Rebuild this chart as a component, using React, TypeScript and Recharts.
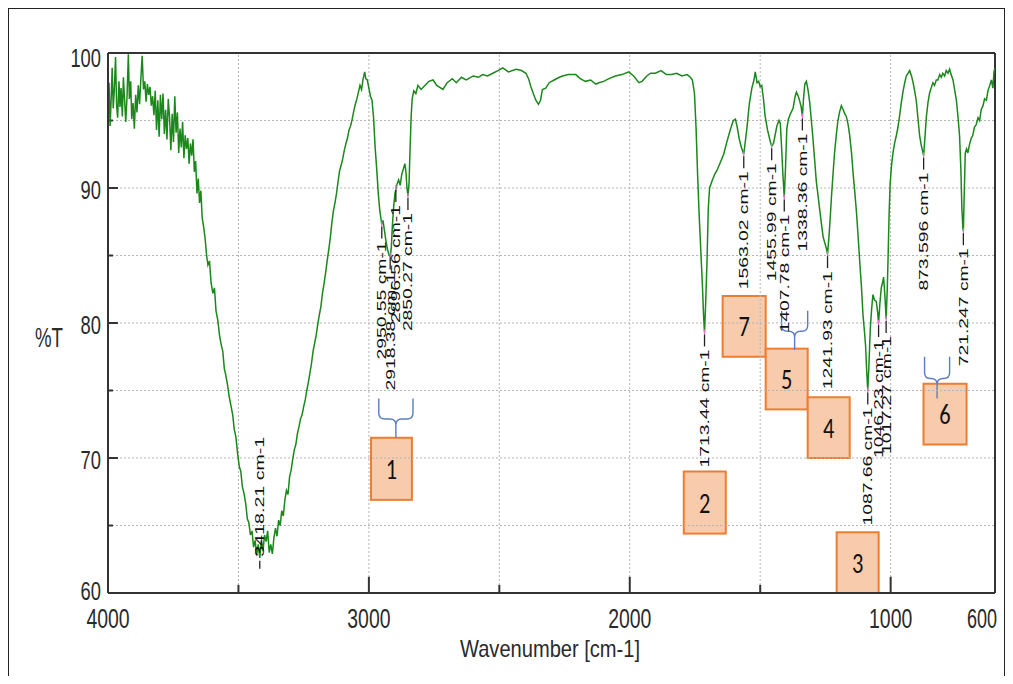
import React from "react";
import {
  LineChart,
  Line,
  XAxis,
  YAxis,
  ReferenceLine,
  ReferenceArea,
  ReferenceDot,
} from "recharts";

// FTIR spectrum: [wavenumber cm-1, %T]
const ohRegion: [number, number][] = [
  [4000, 95.8], [3996, 97.8], [3992, 94.6], [3988, 96.5], [3984, 98.9], [3980, 95.9],
  [3976, 97.2], [3971, 99.7], [3967, 96.1], [3963, 95.2], [3958, 97.9], [3954, 96.0],
  [3950, 97.4], [3945, 95.3], [3941, 98.2], [3936, 96.4], [3932, 94.9], [3927, 96.8],
  [3922, 99.9], [3918, 96.6], [3913, 97.9], [3909, 95.1], [3904, 96.3], [3899, 94.4],
  [3894, 96.9], [3889, 95.6], [3884, 97.6], [3879, 96.2], [3874, 98.1], [3869, 99.8],
  [3864, 97.3], [3859, 97.9], [3854, 96.4], [3849, 97.7], [3844, 96.9], [3839, 97.5],
  [3834, 96.1], [3829, 96.8], [3824, 95.4], [3819, 97.2], [3814, 94.3], [3809, 96.5],
  [3804, 93.8], [3799, 96.9], [3794, 95.1], [3789, 97.0], [3784, 94.0], [3779, 95.8],
  [3774, 93.6], [3769, 96.6], [3764, 95.2], [3759, 92.8], [3754, 95.5], [3749, 93.4],
  [3744, 96.8], [3739, 94.1], [3734, 95.6], [3729, 92.6], [3724, 94.4], [3719, 93.0],
  [3714, 94.9], [3709, 92.2], [3704, 93.9], [3699, 92.9], [3694, 93.7], [3689, 91.8],
  [3684, 93.3], [3679, 92.4], [3674, 93.6], [3669, 91.2], [3664, 92.0], [3659, 89.6],
  [3654, 90.7], [3649, 88.9], [3644, 89.8], [3639, 87.8], [3634, 87.2], [3628, 86.3],
  [3622, 85.0], [3617, 84.3], [3611, 84.6], [3605, 83.0], [3598, 82.2], [3592, 82.6],
  [3586, 80.9], [3579, 80.2], [3572, 79.0], [3566, 78.4], [3560, 77.9], [3554, 76.6],
  [3548, 76.1], [3541, 75.3], [3535, 74.5], [3528, 73.8], [3522, 73.2], [3516, 72.1],
  [3510, 71.6], [3503, 70.3], [3497, 69.4], [3491, 69.0], [3485, 67.9], [3478, 67.3],
  [3472, 66.6], [3466, 65.5], [3460, 65.2], [3454, 64.3], [3448, 64.6], [3442, 63.4],
  [3436, 63.9], [3430, 62.8], [3424, 63.6], [3418, 62.6], [3412, 63.9], [3406, 63.1],
  [3400, 64.3], [3394, 63.8], [3388, 64.6], [3382, 63.0], [3376, 63.6], [3370, 62.9],
  [3364, 64.1], [3358, 64.8], [3352, 64.2], [3346, 65.4], [3340, 65.0], [3334, 66.1],
  [3328, 65.7], [3322, 66.9], [3316, 67.6], [3310, 67.3], [3304, 68.6], [3298, 69.1],
  [3292, 69.9], [3286, 70.6], [3280, 71.0], [3274, 71.8], [3268, 72.3], [3262, 72.9],
  [3256, 73.2], [3250, 73.8], [3244, 74.3], [3238, 75.0], [3232, 75.6], [3226, 76.3],
  [3220, 77.0], [3214, 77.9], [3208, 78.5], [3202, 79.1], [3196, 79.9], [3190, 80.6],
  [3184, 81.2], [3178, 82.2], [3172, 82.9], [3166, 83.7], [3160, 84.6], [3154, 85.4],
  [3148, 86.3], [3142, 87.4], [3136, 88.3], [3130, 88.9], [3124, 89.6], [3118, 90.5],
  [3112, 91.3], [3106, 91.7], [3100, 92.2], [3094, 92.8], [3088, 93.3], [3082, 93.7],
  [3076, 94.3], [3070, 94.6], [3064, 95.1], [3058, 95.7], [3052, 96.2], [3046, 96.6],
  [3040, 97.1], [3034, 97.6], [3028, 97.3], [3022, 98.1], [3016, 98.6], [3012, 98.1],
  [3006, 98.0],
];

const chRegion: [number, number][] = [
  [3000, 97.4], [2994, 96.8], [2988, 96.5], [2982, 95.2], [2976, 93.0], [2970, 91.4],
  [2964, 89.6], [2958, 88.3], [2952, 87.5], [2950.55, 87.3], [2946, 87.6], [2940, 86.8],
  [2934, 86.0], [2928, 85.4], [2922, 85.0], [2918, 84.9], [2914, 85.6], [2910, 87.2],
  [2905, 88.6], [2900, 89.6], [2896.56, 89.9], [2892, 90.3], [2886, 90.6], [2880, 90.2],
  [2874, 91.0], [2868, 91.4], [2862, 91.8], [2858, 91.2], [2854, 90.0], [2850.27, 89.4],
  [2846, 90.4], [2842, 93.0], [2838, 95.3], [2834, 96.6], [2828, 97.2], [2820, 97.0],
  [2812, 97.6], [2800, 97.3],
];

const baseline: [number, number][] = [
  [2790, 97.5], [2770, 97.9], [2754, 98.0], [2740, 97.6], [2716, 97.3], [2700, 97.8],
  [2680, 98.1], [2665, 97.8], [2645, 98.2], [2627, 98.0], [2600, 98.3], [2580, 98.2],
  [2564, 98.4], [2545, 98.3], [2525, 98.5], [2505, 98.7], [2487, 98.9], [2465, 98.6],
  [2436, 98.8], [2415, 98.7], [2398, 98.5], [2388, 98.1], [2379, 97.5], [2368, 96.9],
  [2360, 96.5], [2350, 96.2], [2342, 96.5], [2335, 97.3], [2322, 97.4], [2309, 97.8],
  [2290, 98.0], [2270, 98.2], [2258, 98.3], [2235, 98.4], [2207, 98.4], [2190, 98.1],
  [2170, 97.9], [2150, 98.0], [2130, 97.7], [2118, 97.8], [2100, 97.9], [2080, 98.1],
  [2055, 98.3], [2030, 98.4], [2004, 98.6], [1985, 98.3], [1965, 97.8], [1953, 97.9],
  [1935, 98.3], [1920, 98.5], [1902, 98.5], [1880, 98.7], [1860, 98.4], [1840, 98.4],
  [1820, 98.5], [1800, 98.3], [1780, 98.4], [1768, 98.2],
];

const carbonylRegion: [number, number][] = [
  [1760, 98.0], [1752, 97.0], [1746, 94.5], [1740, 91.0], [1734, 88.0], [1728, 85.5],
  [1722, 83.0], [1717, 80.5], [1713.44, 79.3], [1709, 81.5], [1704, 84.5], [1699, 88.5],
  [1694, 90.0], [1685, 90.5], [1675, 91.0], [1666, 91.3], [1655, 91.8], [1640, 92.5],
  [1628, 93.4], [1615, 94.3], [1603, 95.0], [1595, 95.1], [1588, 94.5], [1580, 93.6],
  [1572, 93.0], [1563.02, 92.5], [1556, 93.6], [1550, 94.6], [1542, 96.2], [1532, 97.4],
  [1524, 98.0], [1519, 98.6], [1512, 97.8], [1506, 97.9], [1500, 97.5], [1494, 97.6],
];

const fingerprint: [number, number][] = [
  [1487, 96.5], [1481, 95.3], [1472, 94.3], [1462, 93.5], [1455.99, 93.1], [1449, 93.3],
  [1442, 94.0], [1436, 94.6], [1428, 95.0], [1423, 94.8], [1418, 93.0], [1413, 91.0],
  [1407.78, 89.3], [1403, 91.5], [1398, 94.4], [1392, 95.1], [1384, 95.5], [1374, 95.9],
  [1366, 96.8], [1361, 97.1], [1354, 96.8], [1348, 96.4], [1343, 96.0], [1338.36, 95.3],
  [1334, 96.6], [1329, 97.7], [1323, 97.9], [1317, 97.3], [1310, 96.3], [1304, 95.0],
  [1298, 93.7], [1291, 92.0], [1285, 90.5], [1278, 89.4], [1272, 88.4], [1265, 87.3],
  [1259, 86.4], [1252, 85.9], [1246, 85.5], [1241.93, 85.1], [1236, 86.5], [1231, 88.0],
  [1227, 89.3], [1221, 91.0], [1215, 92.6], [1208, 94.0], [1202, 95.0], [1196, 95.6],
  [1189, 96.1], [1182, 95.8], [1176, 95.5], [1170, 95.3], [1163, 94.7], [1157, 93.9],
  [1150, 92.6], [1144, 91.1], [1137, 89.6], [1131, 88.2], [1125, 86.5], [1119, 84.7],
  [1112, 82.7], [1106, 80.6], [1100, 79.3], [1096, 78.3], [1092, 76.5], [1087.66, 75.0],
  [1083, 77.0], [1078, 79.6], [1073, 81.0], [1068, 82.1], [1062, 81.7], [1055, 81.6],
  [1050, 80.8], [1046.23, 80.0], [1041, 81.5], [1036, 82.6], [1031, 83.0], [1027, 83.4],
  [1022, 82.0], [1017.27, 80.3], [1013, 82.5], [1010, 84.7], [1006, 88.0], [1002, 90.3],
  [997, 91.6], [991, 92.6], [985, 93.3], [978, 93.9], [972, 94.5], [966, 95.3],
  [960, 96.2], [953, 97.1], [946, 97.8], [940, 98.3], [933, 98.5], [927, 98.7],
  [920, 98.3], [914, 97.8], [908, 97.2], [902, 96.5], [896, 95.3], [889, 93.9],
  [883, 93.2], [876, 92.6], [873.596, 92.4], [869, 93.6], [863, 95.3], [857, 96.3],
  [851, 97.0], [845, 97.4], [838, 97.8], [832, 97.6], [825, 98.0], [819, 98.0],
  [812, 98.4], [806, 98.2], [800, 98.5], [793, 98.3], [787, 98.7], [780, 98.5],
  [774, 98.8], [768, 98.4], [761, 98.0], [755, 97.3], [748, 96.5], [742, 95.3],
  [736, 93.9], [731, 91.5], [727, 88.5], [723, 87.0], [721.247, 86.8], [718, 89.5],
  [714, 92.6], [709, 92.9], [704, 92.6], [698, 93.2], [691, 93.7], [685, 93.9],
  [679, 94.5], [672, 94.7], [665, 95.2], [659, 95.0], [653, 95.8], [646, 96.1],
  [640, 96.6], [633, 96.5], [627, 97.2], [620, 97.6], [614, 98.0], [608, 97.4],
  [604, 98.6], [600, 98.9],
];

const spectrum = [...ohRegion, ...chRegion, ...baseline, ...carbonylRegion, ...fingerprint].map(
  ([wn, t]) => ({ wn, t })
);

const xTicks = [4000, 3000, 2000, 1000, 600];
const yTicks = [100, 90, 80, 70, 60];
const xGrid = [3500, 3000, 2500, 2000, 1500, 1000];
const yGrid = [95, 90, 85, 80, 75, 70, 65];
const xMajor = [3000, 2000, 1000];
const xMinor = [3500, 2500, 1500];
const yMajor = [90, 80, 70];
const yMinor = [95, 85, 75, 65];

// peak picks: label, wavenumber, %T where the tag touches the trace
const peakTags = [
  { label: "2950.55", wn: 2950.55, t: 87.3 },
  { label: "2918.38", wn: 2918.38, t: 85.0 },
  { label: "2896.56", wn: 2896.56, t: 90.0 },
  { label: "2850.27", wn: 2850.27, t: 89.4 },
  { label: "1713.44", wn: 1713.44, t: 79.3 },
  { label: "1563.02", wn: 1563.02, t: 92.5 },
  { label: "1455.99", wn: 1455.99, t: 93.1 },
  { label: "1407.78", wn: 1407.78, t: 89.3 },
  { label: "1338.36", wn: 1338.36, t: 95.3 },
  { label: "1241.93", wn: 1241.93, t: 85.1 },
  { label: "1087.66", wn: 1087.66, t: 75.0 },
  { label: "1046.23", wn: 1046.23, t: 80.0 },
  { label: "1017.27", wn: 1017.27, t: 80.3 },
  { label: "873.596", wn: 873.596, t: 92.4 },
  { label: "721.247", wn: 721.247, t: 86.8 },
];
const ohTag = { label: "3418.21", wn: 3418.21, t: 61.8 };

// numbered band boxes (wavenumber span, %T span)
const bandBoxes = [
  { n: "1", x1: 2992, x2: 2835, y1: 66.9, y2: 71.5 },
  { n: "2", x1: 1793, x2: 1632, y1: 64.4, y2: 69.0 },
  { n: "7", x1: 1644, x2: 1479, y1: 77.5, y2: 82.0 },
  { n: "5", x1: 1479, x2: 1318, y1: 73.6, y2: 78.1 },
  { n: "4", x1: 1318, x2: 1157, y1: 70.0, y2: 74.5 },
  { n: "3", x1: 1207, x2: 1046, y1: 60.0, y2: 64.5 },
  { n: "6", x1: 874, x2: 709, y1: 71.0, y2: 75.5 },
];

const braces = [
  { x1: 2962, x2: 2831, y1: 71.5, y2: 74.4 },
  { x1: 1418, x2: 1318, y1: 78.0, y2: 80.9 },
  { x1: 870, x2: 774, y1: 74.4, y2: 77.5 },
];

const FONT = "'Liberation Sans', Arial, sans-serif";

const XTick = ({ x, y, payload }: any) => {
  const s = String(payload.value);
  // the last label sits against the frame, like the source plot
  const last = payload.value === 600;
  return (
    <text x={last ? x + 2 : x} y={y + 35} textAnchor={last ? "end" : "middle"} fontSize={27}
      fill="#2a2a2a" fontFamily={FONT} textLength={last ? 30 : s.length * 10.8} lengthAdjust="spacingAndGlyphs">
      {s}
    </text>
  );
};

const YTick = ({ x, y, payload }: any) => {
  const s = String(payload.value);
  const dy = payload.value === 100 ? 14 : payload.value === 60 ? 7 : 11;
  return (
    <text x={x} y={y + dy} textAnchor="end" fontSize={26} fill="#2a2a2a" fontFamily={FONT}
      textLength={s.length * 10.2} lengthAdjust="spacingAndGlyphs">
      {s}
    </text>
  );
};

const PeakTag = ({ cx, cy, text, below }: any) => {
  if (cx == null || cy == null) return null;
  if (below) {
    const ay = cy - 12;
    return (
      <g>
        <line x1={cx} y1={cy} x2={cx} y2={cy - 8} stroke="#222" strokeWidth={1.3} />
        <text transform={`rotate(-90 ${cx} ${ay})`} x={cx} y={ay} textAnchor="start"
          dominantBaseline="central" fontSize={13} fill="#111" fontFamily={FONT}
          textLength={120} lengthAdjust="spacingAndGlyphs">
          {text}
        </text>
      </g>
    );
  }
  const ay = cy + 17;
  return (
    <g>
      <line x1={cx} y1={cy - 3} x2={cx} y2={cy + 2} stroke="#e070d0" strokeWidth={1.2} />
      <line x1={cx} y1={cy + 2} x2={cx} y2={cy + 14} stroke="#222" strokeWidth={1.3} />
      <text transform={`rotate(-90 ${cx} ${ay})`} x={cx} y={ay} textAnchor="end"
        dominantBaseline="central" fontSize={13} fill="#111" fontFamily={FONT}
        textLength={118} lengthAdjust="spacingAndGlyphs">
        {text}
      </text>
    </g>
  );
};

const BoxShape = ({ x, y, width, height, n }: any) => {
  if (x == null) return null;
  const cx = x + width / 2;
  const cy = y + height / 2;
  return (
    <g>
      <rect x={x} y={y} width={width} height={height} fill="#F8CBAD" stroke="#ED7D31" strokeWidth={2} />
      <text transform={`translate(${cx} ${cy + 10}) scale(0.8 1)`} textAnchor="middle" fontSize={28}
        fill="#111" fontFamily="Carlito, Calibri, 'Liberation Sans', sans-serif">
        {n}
      </text>
    </g>
  );
};

const BraceShape = ({ x, y, width, height }: any) => {
  if (x == null) return null;
  const m = y + height * 0.52;
  const cx = x + width / 2;
  const r = Math.min(6, width / 4);
  const d =
    `M ${x} ${y} L ${x} ${m - r} Q ${x} ${m} ${x + r} ${m} L ${cx - r} ${m} Q ${cx} ${m} ${cx} ${m + r} L ${cx} ${y + height} ` +
    `M ${x + width} ${y} L ${x + width} ${m - r} Q ${x + width} ${m} ${x + width - r} ${m} L ${cx + r} ${m} Q ${cx} ${m} ${cx} ${m + r}`;
  return <path d={d} fill="none" stroke="#5b7cc4" strokeWidth={1.4} />;
};

export default function App() {
  return (
    <div
      style={{
        width: 997,
        height: 668,
        boxSizing: "border-box",
        borderTop: "1px solid #222",
        borderLeft: "1px solid #222",
        borderRight: "1px solid #222",
        position: "relative",
        background: "#fff",
      }}
    >
      <LineChart width={995} height={666} data={spectrum} margin={{ top: 44, right: 9, bottom: 32, left: 39 }}>
        <XAxis
          dataKey="wn"
          type="number"
          domain={[600, 4000]}
          reversed
          allowDataOverflow
          ticks={xTicks}
          interval={0}
          tickLine={false}
          tickSize={0}
          tickMargin={0}
          height={50}
          axisLine={{ stroke: "#333", strokeWidth: 2 }}
          tick={XTick}
        />
        <YAxis
          type="number"
          domain={[60, 100]}
          allowDataOverflow
          ticks={yTicks}
          interval={0}
          tickLine={false}
          tickSize={0}
          tickMargin={7}
          width={60}
          axisLine={{ stroke: "#333", strokeWidth: 2 }}
          tick={YTick}
        />

        {/* dotted grid */}
        {xGrid.map((v) => (
          <ReferenceLine key={`gx${v}`} x={v} stroke="#b4b4b4" strokeDasharray="2 2" strokeWidth={1} />
        ))}
        {yGrid.map((v) => (
          <ReferenceLine key={`gy${v}`} y={v} stroke="#b4b4b4" strokeDasharray="2 2" strokeWidth={1} />
        ))}

        {/* frame and inward ticks */}
        <ReferenceLine y={100} stroke="#333" strokeWidth={2} />
        <ReferenceLine x={600} stroke="#333" strokeWidth={2} />
        {xMajor.map((v) => (
          <ReferenceLine key={`tx${v}`} segment={[{ x: v, y: 60 }, { x: v, y: 61.2 }]} stroke="#333" strokeWidth={2} />
        ))}
        {xMinor.map((v) => (
          <ReferenceLine key={`sx${v}`} segment={[{ x: v, y: 60 }, { x: v, y: 60.6 }]} stroke="#333" strokeWidth={2} />
        ))}
        {yMajor.map((v) => (
          <ReferenceLine key={`ty${v}`} segment={[{ x: 4000, y: v }, { x: 3962, y: v }]} stroke="#333" strokeWidth={2} />
        ))}
        {yMinor.map((v) => (
          <ReferenceLine key={`sy${v}`} segment={[{ x: 4000, y: v }, { x: 3981, y: v }]} stroke="#333" strokeWidth={2} />
        ))}

        <Line dataKey="t" type="linear" stroke="#1c871c" strokeWidth={1.5} dot={false} isAnimationActive={false} />

        {bandBoxes.map((b) => (
          <ReferenceArea
            key={`box${b.n}`}
            x1={b.x1}
            x2={b.x2}
            y1={b.y1}
            y2={b.y2}
            ifOverflow="visible"
            shape={(p: any) => <BoxShape {...p} n={b.n} />}
          />
        ))}
        {braces.map((b, i) => (
          <ReferenceArea
            key={`br${i}`}
            x1={b.x1}
            x2={b.x2}
            y1={b.y1}
            y2={b.y2}
            ifOverflow="visible"
            shape={(p: any) => <BraceShape {...p} />}
          />
        ))}

        {peakTags.map((p) => (
          <ReferenceDot
            key={p.label}
            x={p.wn}
            y={p.t}
            ifOverflow="visible"
            shape={(s: any) => <PeakTag {...s} text={`${p.label} cm-1`} />}
          />
        ))}
        <ReferenceDot
          x={ohTag.wn}
          y={ohTag.t}
          ifOverflow="visible"
          shape={(s: any) => <PeakTag {...s} text={`${ohTag.label} cm-1`} below />}
        />
      </LineChart>

      <svg
        width={995}
        height={666}
        style={{ position: "absolute", left: 0, top: 0, pointerEvents: "none" }}
      >
        <text x={40} y={338} textAnchor="middle" fontSize={27} fill="#2a2a2a" fontFamily={FONT}
          textLength={28} lengthAdjust="spacingAndGlyphs">
          %T
        </text>
        <text x={541} y={648} textAnchor="middle" fontSize={24} fill="#2a2a2a" fontFamily={FONT}
          textLength={180} lengthAdjust="spacingAndGlyphs">
          Wavenumber [cm-1]
        </text>
      </svg>
    </div>
  );
}
